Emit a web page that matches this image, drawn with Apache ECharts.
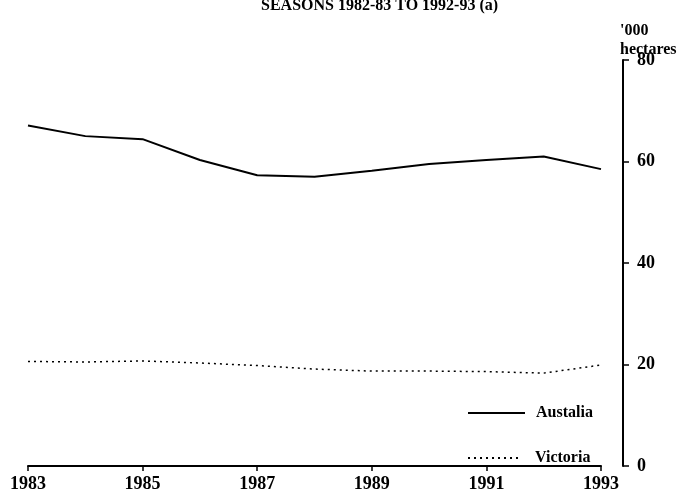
<!DOCTYPE html>
<html>
<head>
<meta charset="utf-8">
<script src="https://cdn.jsdelivr.net/npm/echarts@6/dist/echarts.min.js"></script>
<style>html,body{margin:0;padding:0;background:#fff}#c{width:691px;height:502px}</style>
</head>
<body>
<div id="c"></div>
<script>
const years = ['1983','1984','1985','1986','1987','1988','1989','1990','1991','1992','1993'];
const australia = [67.1, 65.0, 64.4, 60.3, 57.3, 57.0, 58.2, 59.5, 60.3, 61.0, 58.5];
const victoria = [20.6, 20.5, 20.7, 20.3, 19.8, 19.1, 18.7, 18.7, 18.6, 18.3, 19.9];
const yTicks = [0, 20, 40, 60, 80];
const titleText = 'SEASONS 1982-83 TO 1992-93 (a)';
const unitText = "'000\nhectares";

const font = 'Liberation Serif';
const legendText = {fontFamily: font, fontWeight: 'bold', fontSize: 16, color: '#000'};
const chart = echarts.init(document.getElementById('c'));
chart.setOption({
  backgroundColor: '#fff',
  animation: false,
  title: {
    text: titleText, left: 256, top: -7,
    textStyle: {fontFamily: font, fontWeight: 'bold', fontSize: 16, color: '#000'}
  },
  graphic: [{
    type: 'text', left: 620, top: 21,
    style: {text: unitText, font: 'bold 16px "Liberation Serif"', fill: '#000', lineHeight: 19}
  }],
  legend: [{
    data: ['Austalia'], left: 462, top: 400, itemWidth: 57, itemHeight: 14,
    itemStyle: {color: 'transparent', borderColor: 'transparent', borderWidth: 0},
    textStyle: Object.assign({padding: [0, 0, 0, 6]}, legendText)
  }, {
    data: ['Victoria'], left: 462, top: 445, itemWidth: 50, itemHeight: 14,
    itemStyle: {color: 'transparent', borderColor: 'transparent', borderWidth: 0},
    textStyle: Object.assign({padding: [0, 0, 0, 12]}, legendText)
  }],
  grid: {left: 28, right: 90, top: 60, bottom: 36},
  xAxis: {
    type: 'category', data: years, boundaryGap: false,
    axisLine: {lineStyle: {color: '#000', width: 2}},
    axisTick: {show: true, interval: 1, length: 5, lineStyle: {color: '#000', width: 1.5}},
    axisLabel: {interval: 1, color: '#000', fontFamily: font, fontWeight: 'bold', fontSize: 18, margin: 9},
    splitLine: {show: false}
  },
  yAxis: {
    type: 'value', position: 'right', offset: 22, min: 0, max: 80, interval: 20,
    axisLine: {show: true, lineStyle: {color: '#000', width: 2}},
    axisTick: {show: true, length: 6, lineStyle: {color: '#000', width: 1.5}},
    axisLabel: {color: '#000', fontFamily: font, fontWeight: 'bold', fontSize: 18, margin: 14,
      formatter: v => yTicks.includes(v) ? String(v) : ''},
    splitLine: {show: false}
  },
  series: [{
    name: 'Austalia', type: 'line', data: australia, symbol: 'none',
    lineStyle: {color: '#000', width: 2}, itemStyle: {color: '#000'}
  }, {
    name: 'Victoria', type: 'line', data: victoria, symbol: 'none',
    lineStyle: {color: '#000', width: 1.5, type: [2, 4]}, itemStyle: {color: '#000'}
  }]
});
</script>
</body>
</html>
